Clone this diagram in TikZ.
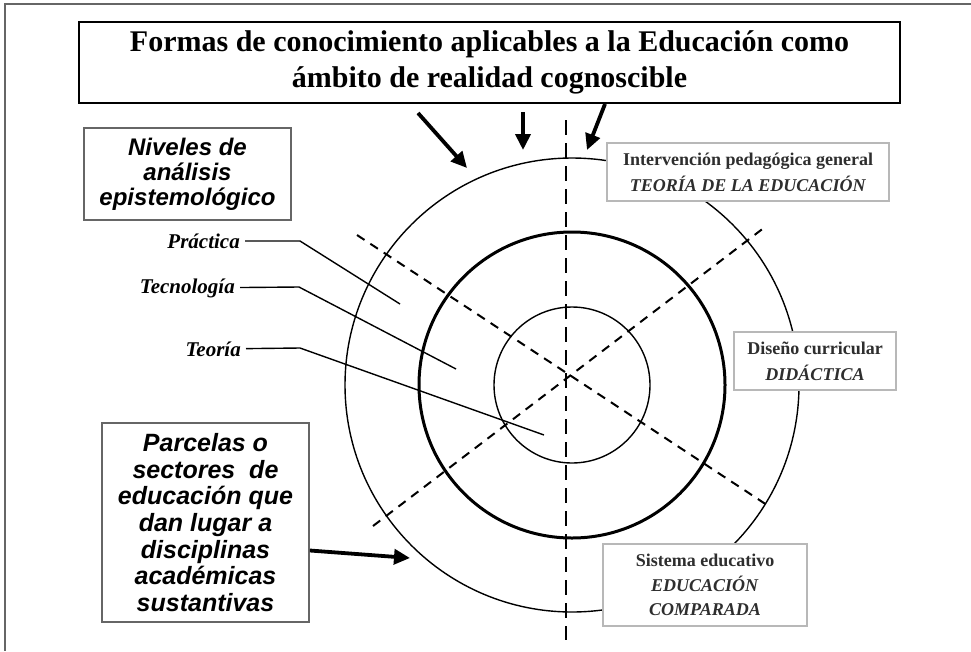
\documentclass[tikz,border=0pt]{standalone}
\usepackage{fontspec}
\setmainfont{Liberation Serif}
\newfontfamily\boxfont{Liberation Sans}
\usetikzlibrary{arrows.meta}

\definecolor{framegray}{gray}{0.4}
\definecolor{lightframe}{gray}{0.72}
\definecolor{textgray}{gray}{0.18}

\tikzset{
  bigarrow/.style={line width=3.8pt, -{Triangle[length=16pt,width=15pt]}},
  sidebox/.style={draw=framegray, line width=1.8pt, fill=white, align=center, inner sep=0pt,
    font=\boxfont\bfseries\itshape},
  areabox/.style={draw=lightframe, line width=1.2pt, fill=white, align=center, inner sep=0pt,
    text=textgray, font=\fontsize{18}{26}\selectfont\bfseries},
  level/.style={anchor=east, inner sep=5pt, font=\fontsize{21}{22}\selectfont\bfseries\itshape},
  ring/.style={line width=1.4pt},
  axis/.style={line width=2pt, dash pattern=on 9pt off 7pt},
}

\begin{document}
\begin{tikzpicture}[x=1pt, y=-1pt]
  \useasboundingbox[fill=white] (0,0) rectangle (971,651);
  % page frame (top and left only)
  \draw[framegray, line width=1.5pt] (971,4) -- (5,4) -- (5,651);

  % rings
  \coordinate (C) at (572,385);
  \draw[ring] (C) circle[radius=227pt];
  \draw[ring, line width=3pt] (C) circle[radius=153pt];
  \draw[ring] (C) circle[radius=78pt];

  % axes
  \draw[axis, line width=2.6pt, dash pattern=on 15pt off 8pt] (566,120) -- (566,640);
  \draw[axis] (357,235) -- (770,507);
  \draw[axis] (373,526) -- (765,227);

  % title
  \node[draw, line width=2.6pt, fill=white, minimum width=821pt, minimum height=81pt,
    align=center, inner sep=0pt, font=\fontsize{30}{36}\selectfont\bfseries]
    (title) at (489.5,62.5) {Formas de conocimiento aplicables a la Educación como\\
    ámbito de realidad cognoscible};
  \coordinate (tailA) at (418,113);
  \coordinate (headA) at (467,168);
  \coordinate (tailB) at (523,112);
  \coordinate (headB) at (523,150);
  \coordinate (tailC) at (605,104);
  \coordinate (headC) at (587,150);
  \draw[bigarrow] (tailA) -- (headA);
  \draw[bigarrow] (tailB) -- (headB);
  \draw[bigarrow] (tailC) -- (headC);

  % left boxes
  \node[sidebox, minimum width=207pt, minimum height=92pt,
    font=\boxfont\bfseries\itshape\fontsize{24}{25}\selectfont]
    (niveles) at (187.5,174) {Niveles de\\análisis\\epistemológico};
  \node[sidebox, minimum width=207pt, minimum height=199pt,
    font=\boxfont\bfseries\itshape\fontsize{25}{26.7}\selectfont]
    (parcelas) at (205.5,522.5) {Parcelas o\\sectores\ \ de\\educación que\\dan lugar a\\disciplinas\\académicas\\sustantivas};
  \coordinate (parcHead) at (410,558);
  \draw[bigarrow] ([yshift=-28pt]parcelas.east) -- (parcHead);

  % levels
  \node[level] (prac) at (245,241) {Práctica};
  \node[level] (tecno) at (240,288) {Tecnología};
  \node[level] (teor) at (246,349) {Teoría};
  \coordinate (pracBend) at (300,241);
  \coordinate (pracEnd) at (400,304);
  \coordinate (tecnoBend) at (299,287);
  \coordinate (tecnoEnd) at (456,369);
  \coordinate (teorBend) at (300,348);
  \coordinate (teorEnd) at (544,435);
  \draw[line width=1.4pt] (prac) -- (pracBend) -- (pracEnd);
  \draw[line width=1.4pt] (tecno) -- (tecnoBend) -- (tecnoEnd);
  \draw[line width=1.4pt] (teor) -- (teorBend) -- (teorEnd);

  % areas
  \node[areabox, minimum width=282pt, minimum height=58pt] (interv) at (748,172)
    {Intervención pedagógica general\\\textit{TEORÍA DE LA EDUCACIÓN}};
  \node[areabox, minimum width=162pt, minimum height=58pt] (diseno) at (815,361)
    {Diseño curricular\\\textit{DIDÁCTICA}};
  \node[areabox, minimum width=204pt, minimum height=82pt,
    font=\fontsize{18}{24.5}\selectfont\bfseries] (sistema) at (705,585)
    {Sistema educativo\\\textit{EDUCACIÓN}\\\textit{COMPARADA}};
\end{tikzpicture}
\end{document}
